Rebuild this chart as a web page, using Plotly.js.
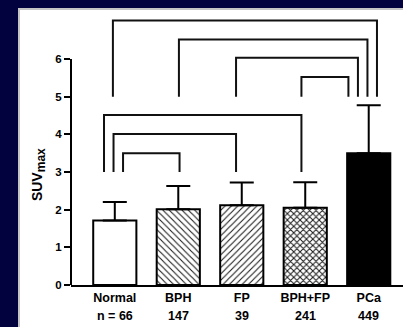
<!DOCTYPE html>
<html>
<head>
<meta charset="utf-8">
<script src="https://cdn.plot.ly/plotly-3.0.1.min.js"></script>
<style>
  html, body { margin: 0; padding: 0; width: 403px; height: 327px; overflow: hidden; background: #02023f; }
  #panel { position: absolute; left: 18px; top: 8px; width: 400px; height: 330px; background: #ffffff; border-left: 2px solid #c4c4c4; border-top: 2px solid #c4c4c4; box-sizing: border-box; }
  #chart { position: absolute; left: 0; top: 0; width: 403px; height: 327px; }
</style>
</head>
<body>
<div id="panel"></div>
<div id="chart"></div>
<script>
// Data
const categories = ["Normal", "BPH", "FP", "BPH+FP", "PCa"];
const nLabels = ["n = 66", "147", "39", "241", "449"];
const meanSUV = [1.71, 2.01, 2.12, 2.05, 3.50];
const sdSUV = [0.49, 0.62, 0.60, 0.68, 1.27];
const yTicks = [0, 1, 2, 3, 4, 5, 6];

// Significance brackets (left x, right x, top height, foot height)
const bracketLeft  = [-0.03, 1.01, 1.91, 2.94, -0.17, -0.02, 0.13];
const bracketRight = [4.13, 3.98, 3.83, 3.68, 2.94, 1.91, 1.02];
const bracketTop   = [7.02, 6.52, 6.03, 5.52, 4.51, 4.01, 3.50];
const bracketFoot  = [5, 5, 5, 5, 3, 3, 3];

const font = { family: "Liberation Sans, Arial, sans-serif", color: "#000", size: 12.5, weight: 700 };
const tickFontY = { family: "Liberation Sans, Arial, sans-serif", color: "#000", size: 11.5, weight: 700 };
const xIdx = categories.map((c, i) => i);

const patterns = ["", "\\", "/", "x"];
const patternSolidity = [0, 0.24, 0.24, 0.4];
const nHatched = patterns.length;

function barTrace(lo, hi, color, pattern) {
  const t = {
    type: "bar",
    x: xIdx.slice(lo, hi),
    y: meanSUV.slice(lo, hi),
    width: 0.68,
    marker: { color: color, line: { color: "#000", width: 2 } },
    error_y: { type: "data", symmetric: false, array: sdSUV.slice(lo, hi), arrayminus: sdSUV.slice(lo, hi).map(() => 0), color: "#000", thickness: 2, width: 12 },
    hoverinfo: "skip",
    showlegend: false
  };
  if (pattern) t.marker.pattern = pattern;
  return t;
}

const traces = [
  barTrace(0, nHatched, "#ffffff", { shape: patterns, fgcolor: "#1a1a1a", size: 4.5, solidity: patternSolidity }),
  barTrace(nHatched, categories.length, "#000000", null)
];

for (let i = 0; i < bracketLeft.length; i++) {
  traces.push({
    type: "scatter",
    mode: "lines",
    x: [bracketLeft[i], bracketLeft[i], bracketRight[i], bracketRight[i]],
    y: [bracketFoot[i], bracketTop[i], bracketTop[i], bracketFoot[i]],
    line: { color: "#111", width: 2 },
    hoverinfo: "skip",
    showlegend: false
  });
}

const annotations = nLabels.map((t, i) => ({
  x: i, xref: "x", y: -0.113, yref: "paper", text: t, showarrow: false,
  xanchor: "center", yanchor: "middle", font: font
}));
annotations.push({
  x: -0.098, xref: "paper", y: 2.93, yref: "y",
  text: "SUV<sub><span style=\"font-size:12px\">max</span></sub>", textangle: -90,
  showarrow: false, xanchor: "center", yanchor: "middle", font: Object.assign({}, font, { size: 14 })
});

const layout = {
  width: 403, height: 327,
  margin: { l: 71, r: 0, t: 10, b: 42 },
  paper_bgcolor: "rgba(0,0,0,0)",
  plot_bgcolor: "rgba(0,0,0,0)",
  barmode: "overlay",
  hovermode: false,
  xaxis: {
    range: [-0.69, 4.54], tickvals: xIdx, ticktext: categories, showgrid: false, zeroline: false,
    showline: true, linecolor: "#000", linewidth: 2, ticks: "", tickfont: font, fixedrange: true
  },
  yaxis: {
    range: [0, 7.30], tickvals: yTicks, showgrid: false, zeroline: false, showline: false,
    ticks: "outside", ticklen: 6, tickwidth: 2, tickcolor: "#000", tickfont: tickFontY, fixedrange: true
  },
  shapes: [{ type: "line", xref: "paper", yref: "y", x0: 0, x1: 0, y0: 0, y1: 6, line: { color: "#000", width: 2 } }],
  annotations: annotations
};

Plotly.newPlot("chart", traces, layout, { displayModeBar: false });
</script>
</body>
</html>
